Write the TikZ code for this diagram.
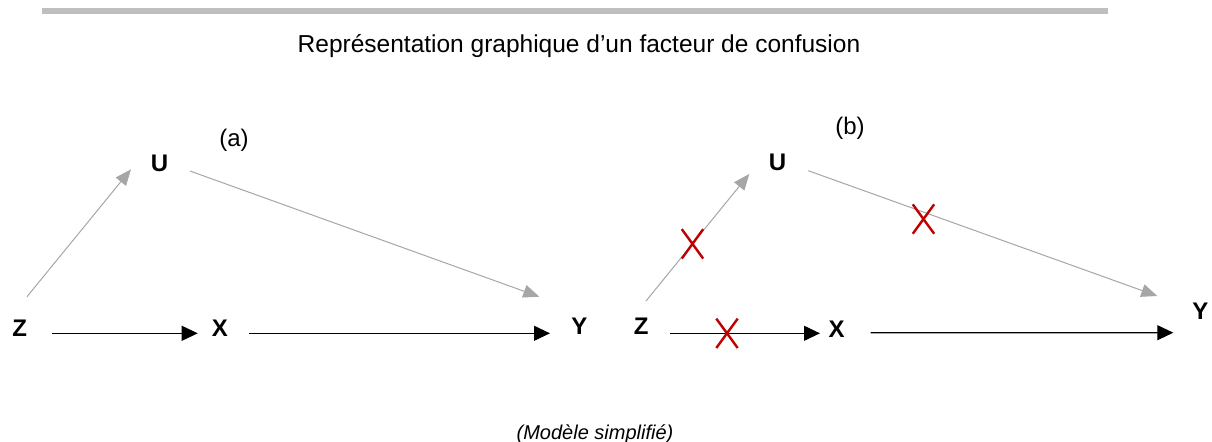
\documentclass[tikz,border=0pt]{standalone}
\usepackage{fontspec}
\setmainfont{Liberation Sans}
\usetikzlibrary{arrows.meta,shapes.misc}
\definecolor{barre}{HTML}{BFBFBF}
\definecolor{gris}{HTML}{A6A6A6}
\definecolor{rouge}{HTML}{C00000}
\begin{document}
\begin{tikzpicture}[x=0.5pt,y=-0.5pt,
		lettre/.style={inner sep=0pt,font=\fontsize{12}{14}\selectfont\bfseries},
		etiq/.style={inner sep=0pt,font=\fontsize{12}{14}\selectfont},
		fleche/.style={line width=0.55pt,-{Triangle[length=8pt,width=7.5pt]}},
		flechegrise/.style={color=gris,line width=0.5pt,-{Triangle[length=8pt,width=6.5pt]}},
		croix/.style={cross out,draw=rouge,line width=1.2pt,inner sep=0pt,minimum width=9.5pt,minimum height=13.5pt}]
	\useasboundingbox (0,0) rectangle (1212,441);
	\fill[barre] (42,8) rectangle (1108,14);
	\node[anchor=base,font=\fontsize{12.25}{14}\selectfont] (titre) at (579,52.5) {Représentation graphique d’un facteur de confusion};
	
	% (a)
	\node[lettre] (Za) at (19.7,328.7) {Z};
	\node[lettre] (Xa) at (220,328.7) {X};
	\node[lettre] (Ya) at (579.5,326.3) {Y};
	\node[lettre] (Ua) at (159.5,163.5) {U};
	\node[etiq] (a) at (234,140) {(a)};
	\draw[flechegrise] ([xshift=3.65pt,yshift=16pt]Za.center)--([xshift=-14.25pt,yshift=-2.9pt]Ua.center);
	\draw[flechegrise] ([xshift=15.25pt,yshift=-3.75pt]Ua.center)--([xshift=-20.1pt,yshift=14.8pt]Ya.center);
	\draw[fleche] ([xshift=16.3pt,yshift=-2.3pt]Za.center)--([xshift=-11.15pt,yshift=-2.3pt]Xa.center);
	\draw[fleche] ([xshift=14.65pt,yshift=-2.3pt]Xa.center)--([xshift=-14.75pt,yshift=-3.5pt]Ya.center);
	
	% (b)
	\node[lettre] (Zb) at (641.3,326.3) {Z};
	\node[lettre] (Xb) at (836.7,329) {X};
	\node[lettre] (Yb) at (1200.3,311.7) {Y};
	\node[lettre] (Ub) at (777.5,162.7) {U};
	\node[etiq] (b) at (850,128) {(b)};
	\draw[flechegrise] ([xshift=2.35pt,yshift=12.65pt]Zb.center)--node[croix,pos=0.45]{}([xshift=-14.1pt,yshift=-5.65pt]Ub.center);
	\draw[flechegrise] ([xshift=15.4pt,yshift=-4pt]Ub.center)--node[croix,pos=0.33,yshift=-3.5pt]{}([xshift=-21.5pt,yshift=7.85pt]Yb.center);
	\draw[fleche] ([xshift=14.35pt,yshift=-3.5pt]Zb.center)--node[croix,pos=0.38]{}([xshift=-8.35pt,yshift=-2.15pt]Xb.center);
	\draw[fleche] ([xshift=16.9pt,yshift=-1.85pt]Xb.center)--([xshift=-13.5pt,yshift=-10.5pt]Yb.center);
	
	\node[anchor=base,font=\fontsize{10}{12}\selectfont\itshape] (modele) at (595,439) {(Modèle simplifié)};
\end{tikzpicture}
\end{document}
